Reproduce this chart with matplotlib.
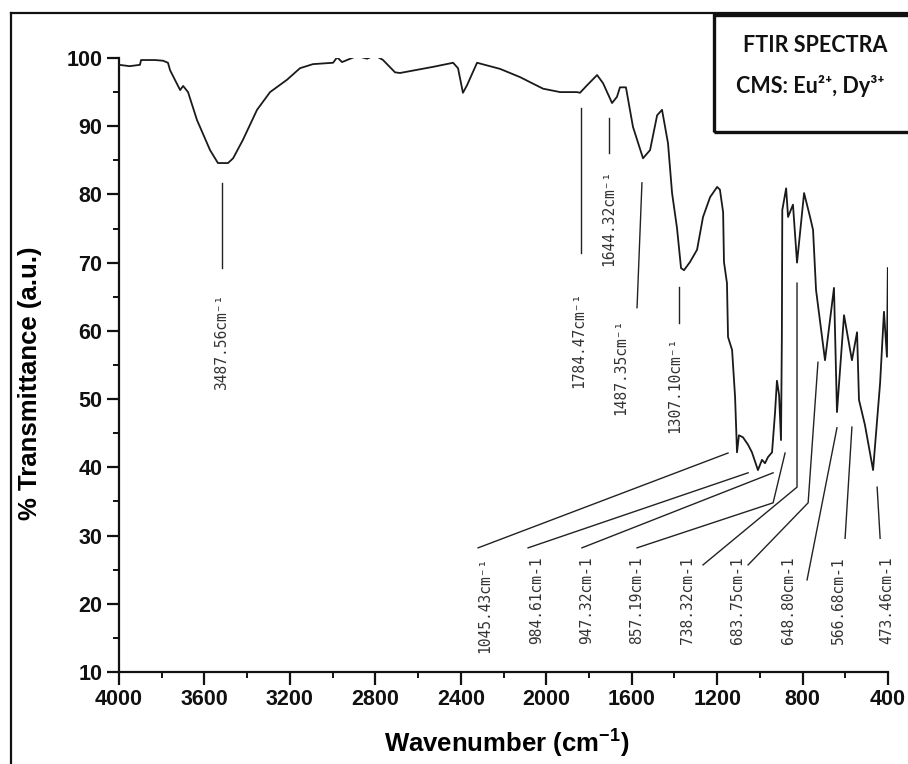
import matplotlib
matplotlib.use("Agg")
import matplotlib.pyplot as plt
from matplotlib.patches import Rectangle
from matplotlib.lines import Line2D
from matplotlib.ticker import MultipleLocator

# --- spectrum (cm-1, % transmittance) ---
WAVENUMBER = [
    4000, 3950, 3902, 3897, 3831, 3794, 3771, 3761, 3714, 3700, 3677, 3635,
    3574, 3537, 3490, 3466, 3420, 3354, 3293, 3214, 3153, 3092, 2998, 2979,
    2956, 2886, 2839, 2802, 2764, 2708, 2685, 2530, 2436, 2413, 2390, 2371,
    2324, 2216, 2123, 2015, 1935, 1856, 1842, 1809, 1762, 1734, 1692, 1669,
    1655, 1627, 1594, 1547, 1514, 1481, 1458, 1430, 1411, 1388, 1369, 1355,
    1327, 1294, 1266, 1233, 1200, 1187, 1172, 1168, 1154, 1149, 1130, 1116,
    1107, 1098, 1079, 1055, 1037, 1009, 990, 976, 962, 943, 929, 920,
    910, 901, 897, 895, 877, 868, 845, 826, 793, 765, 751, 737,
    695, 653, 639, 606, 569, 545, 536, 508, 470, 437, 419, 405,
    401,
]
TRANSMITTANCE = [
    99.0, 98.8, 99.0, 99.7, 99.7, 99.6, 99.3, 98.2, 95.3, 95.9, 95.0, 90.9,
    86.5, 84.6, 84.6, 85.3, 88.0, 92.4, 95.0, 96.8, 98.5, 99.1, 99.3, 100.1,
    99.4, 100.3, 99.9, 100.4, 99.7, 97.9, 97.8, 98.7, 99.3, 98.5, 94.9, 96.0,
    99.3, 98.4, 97.2, 95.5, 95.0, 95.0, 94.9, 96.0, 97.5, 96.3, 93.4, 94.3,
    95.7, 95.7, 89.9, 85.3, 86.5, 91.6, 92.4, 87.5, 80.2, 75.1, 69.2, 68.9,
    70.1, 71.9, 76.7, 79.6, 81.1, 80.7, 77.4, 70.1, 67.0, 59.1, 57.2, 50.3,
    42.2, 44.7, 44.4, 43.3, 42.2, 39.6, 41.1, 40.6, 41.5, 42.2, 48.0, 52.7,
    50.6, 44.0, 59.1, 77.7, 80.9, 76.7, 78.5, 70.0, 80.2, 76.7, 74.8, 66.0,
    55.7, 66.3, 48.1, 62.3, 55.7, 59.8, 49.9, 46.2, 39.6, 52.4, 62.8, 56.2,
    69.2,
]

X_TICKS = [4000, 3600, 3200, 2800, 2400, 2000, 1600, 1200, 800, 400]
Y_TICKS = [10, 20, 30, 40, 50, 60, 70, 80, 90, 100]

UPPER_LABELS = ["3487.56cm⁻¹", "1784.47cm⁻¹", "1644.32cm⁻¹",
                "1487.35cm⁻¹", "1307.10cm⁻¹"]
LOWER_LABELS = ["1045.43cm⁻¹", "984.61cm-1", "947.32cm-1", "857.19cm-1",
                "738.32cm-1", "683.75cm-1", "648.80cm-1", "566.68cm-1",
                "473.46cm-1"]

# --- label layout (data coords) ---
UPPER_TEXT_XY = [(3518, 58.4), (1847, 58.7), (1706, 76.5),
                 (1650, 54.7), (1397, 52.1)]
UPPER_LEADERS = [
    [(3518, 81.7), (3518, 69.2)],
    [(1837, 92.7), (1837, 71.4)],
    [(1706, 91.2), (1706, 86.1)],
    [(1552, 81.7), (1575, 63.4)],
    [(1378, 66.4), (1378, 61.2)],
]
LOWER_TEXT_X = [2287, 2043, 1809, 1575, 1341, 1107, 868, 634, 405]
LOWER_TEXT_TOP = 26.9
LOWER_LEADERS = [
    [(2319, 28.2), (1149, 42.1)],
    [(2085, 28.2), (1055, 39.2)],
    [(1833, 28.2), (938, 39.2)],
    [(1575, 28.2), (938, 34.8), (882, 42.1)],
    [(1266, 25.7), (826, 37.1), (826, 67.0)],
    [(1055, 25.7), (774, 34.8), (728, 55.4)],
    [(779, 23.5), (639, 45.8)],
    [(601, 29.6), (569, 45.9)],
    [(437, 29.6), (451, 37.1)],
]

LINE_COLOR = "#1a1a1a"
TEXT_COLOR = "#333333"
AXIS_FONT = "Liberation Sans"
NOTE_FONT = ["DejaVu Sans Mono", "DejaVu Sans"]

plt.rcParams["mathtext.fontset"] = "custom"
plt.rcParams["mathtext.rm"] = AXIS_FONT
plt.rcParams["mathtext.bf"] = AXIS_FONT + ":bold"

fig = plt.figure(figsize=(9.08, 7.64), dpi=100)
ax = fig.add_axes([0.1311, 0.1204, 0.8469, 0.8037])

ax.plot(WAVENUMBER, TRANSMITTANCE, color=LINE_COLOR, lw=1.3, zorder=3)

ax.set_xlim(4000, 400)
ax.set_ylim(10, 100)
ax.set_xticks(X_TICKS)
ax.set_yticks(Y_TICKS)
ax.xaxis.set_minor_locator(MultipleLocator(200))
ax.yaxis.set_minor_locator(MultipleLocator(5))

for side in ("top", "right"):
    ax.spines[side].set_visible(False)
for side in ("left", "bottom"):
    ax.spines[side].set_linewidth(1.6)
    ax.spines[side].set_color("#111111")

ax.tick_params(which="major", direction="out", length=9, width=1.6,
               pad=3, colors="#111111")
ax.tick_params(which="minor", direction="out", length=4.5, width=1.4,
               colors="#111111")
for lab in ax.get_xticklabels() + ax.get_yticklabels():
    lab.set_fontfamily(AXIS_FONT)
    lab.set_fontweight("bold")
    lab.set_fontsize(15.5)

ax.set_xlabel(r"Wavenumber (cm$^{\mathbf{-1}}$)", family=AXIS_FONT,
              weight="bold", fontsize=18.5)
ax.set_ylabel("% Transmittance (a.u.)", family=AXIS_FONT,
              weight="bold", fontsize=18.5)
ax.xaxis.set_label_coords(0.5046, -0.088)
ax.yaxis.set_label_coords(-0.100, 0.4707)

# peak annotations
for text, (tx, ty), pts in zip(UPPER_LABELS, UPPER_TEXT_XY, UPPER_LEADERS):
    xs, ys = zip(*pts)
    ax.plot(xs, ys, color="#222222", lw=1.0, zorder=2)
    ax.text(tx, ty, text, rotation=90, ha="center", va="center",
            family=NOTE_FONT, fontsize=10.5, color=TEXT_COLOR)

for text, tx, pts in zip(LOWER_LABELS, LOWER_TEXT_X, LOWER_LEADERS):
    xs, ys = zip(*pts)
    ax.plot(xs, ys, color="#222222", lw=1.0, zorder=2, clip_on=False)
    ax.text(tx, LOWER_TEXT_TOP, text, rotation=90, ha="center", va="top",
            family=NOTE_FONT, fontsize=10.5, color=TEXT_COLOR)

# title box in the upper right corner
fig.add_artist(Rectangle((0.7863, 0.8272), 0.218, 0.1531,
                         transform=fig.transFigure, fill=False,
                         edgecolor="#111111", lw=2.4))
fig.text(0.8976, 0.9398, "FTIR SPECTRA", ha="center", va="center",
         family=["Lato", "DejaVu Sans"], weight="bold", fontsize=15.5,
         color="#111111")
fig.text(0.892, 0.8874, "CMS: Eu²⁺, Dy³⁺", ha="center", va="center",
         family=["Lato", "DejaVu Sans"], weight="bold", fontsize=15.5,
         color="#111111")

# outer frame (left and top edges visible in the reference)
fx, fy = 11 / 908, 1 - 13 / 764
fig.add_artist(Line2D([fx, fx], [0, fy], transform=fig.transFigure,
                      color="#111111", lw=1.6))
fig.add_artist(Line2D([fx, 1], [fy, fy], transform=fig.transFigure,
                      color="#111111", lw=1.6))

fig.savefig("out.png", dpi=100, facecolor="white")
